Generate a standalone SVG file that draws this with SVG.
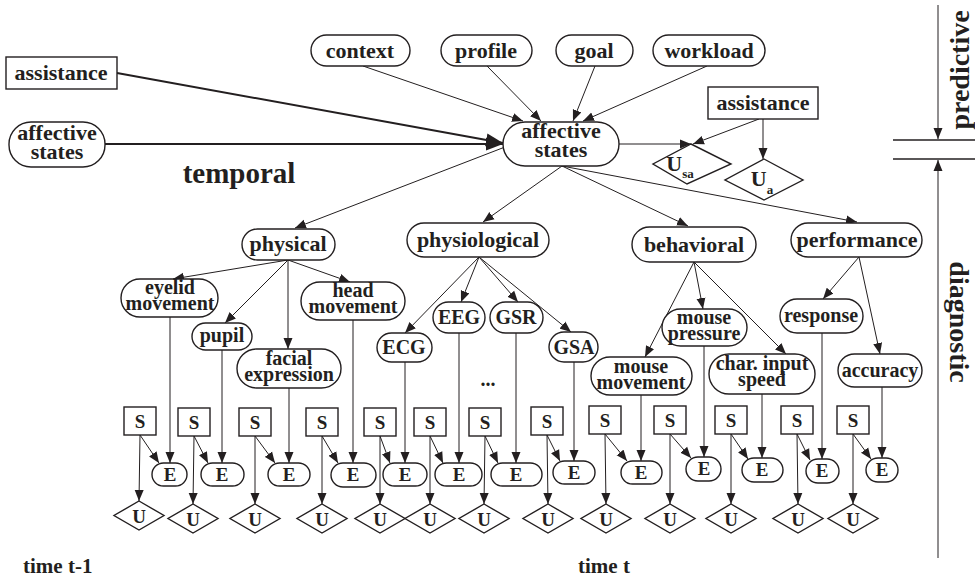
<svg xmlns="http://www.w3.org/2000/svg" width="975" height="581" viewBox="0 0 975 581">
<defs>
<marker id="ah" markerUnits="userSpaceOnUse" markerWidth="12" markerHeight="10" refX="11" refY="5" orient="auto"><path d="M0,0.5 L11,5 L0,9.5 z" fill="#231f20"/></marker>
<marker id="ahb" markerUnits="userSpaceOnUse" markerWidth="18" markerHeight="14" refX="17" refY="7" orient="auto"><path d="M0,0.5 L17,7 L0,13.5 z" fill="#231f20"/></marker>
<style>
.n{fill:#fff;stroke:#231f20;stroke-width:1.4}
.t{font-family:"Liberation Serif","Times New Roman",serif;font-weight:bold;fill:#231f20;text-anchor:middle}
.L{font-size:22px}
.M{font-size:20px}
.s{font-size:19px}
.c line,.c path{stroke:#231f20;stroke-width:1;fill:none;marker-end:url(#ah)}
.c .th{stroke-width:2;marker-end:url(#ahb)}
.ax line{stroke:#231f20;stroke-width:1.4}
</style>
</defs>

<!-- connectors -->
<g id="connectors" class="c">
<line class="th" x1="117" y1="73" x2="503" y2="143"/>
<line class="th" x1="105" y1="144" x2="503" y2="144"/>
<line x1="363" y1="66" x2="523" y2="121"/>
<line x1="487" y1="66" x2="541" y2="121"/>
<line x1="595" y1="66" x2="573" y2="121"/>
<line x1="707" y1="66" x2="583" y2="121"/>
<line x1="619" y1="144" x2="691" y2="144"/>
<line x1="759" y1="119" x2="693" y2="144"/>
<line x1="763" y1="119" x2="763" y2="159"/>
<line x1="505" y1="147" x2="295" y2="228"/>
<line x1="562" y1="166" x2="483" y2="222"/>
<line x1="562" y1="166" x2="688" y2="226"/>
<line x1="562" y1="166" x2="857" y2="222"/>
<line x1="288" y1="260" x2="173" y2="279"/>
<line x1="288" y1="260" x2="225" y2="323"/>
<line x1="288" y1="260" x2="288" y2="349"/>
<line x1="288" y1="260" x2="350" y2="282"/>
<line x1="479" y1="257" x2="405" y2="333"/>
<line x1="479" y1="257" x2="461" y2="302"/>
<line x1="479" y1="257" x2="518" y2="302"/>
<line x1="479" y1="257" x2="571" y2="332"/>
<line x1="694" y1="262" x2="645" y2="357"/>
<line x1="694" y1="262" x2="703" y2="309"/>
<line x1="694" y1="262" x2="786" y2="354"/>
<line x1="859" y1="257" x2="823" y2="299"/>
<line x1="859" y1="257" x2="880" y2="354"/>
<!-- parents to E -->
<line x1="170" y1="317" x2="170" y2="463"/>
<line x1="222" y1="350" x2="222" y2="463"/>
<line x1="289" y1="388" x2="289" y2="463"/>
<line x1="353" y1="320" x2="353" y2="463"/>
<line x1="405" y1="362" x2="405" y2="463"/>
<line x1="459" y1="333" x2="459" y2="463"/>
<line x1="516" y1="333" x2="516" y2="463"/>
<line x1="574" y1="362" x2="574" y2="461"/>
<line x1="641" y1="395" x2="641" y2="461"/>
<line x1="704" y1="346" x2="704" y2="457"/>
<line x1="762" y1="394" x2="762" y2="458"/>
<line x1="822" y1="333" x2="822" y2="459"/>
<line x1="882" y1="387" x2="882" y2="458"/>
<!-- S to E -->
<line x1="140" y1="435" x2="159" y2="463"/>
<line x1="194" y1="436" x2="208" y2="463"/>
<line x1="255" y1="436" x2="275" y2="463"/>
<line x1="322" y1="436" x2="338" y2="463"/>
<line x1="380" y1="436" x2="390" y2="463"/>
<line x1="430" y1="436" x2="443" y2="463"/>
<line x1="485" y1="436" x2="498" y2="463"/>
<line x1="547" y1="435" x2="560" y2="461"/>
<line x1="605" y1="434" x2="627" y2="461"/>
<line x1="670" y1="434" x2="691" y2="458"/>
<line x1="731" y1="434" x2="748" y2="459"/>
<line x1="797" y1="434" x2="810" y2="460"/>
<line x1="853" y1="434" x2="871" y2="459"/>
<!-- S to U -->
<line x1="140" y1="435" x2="139" y2="501"/>
<line x1="194" y1="436" x2="193" y2="504"/>
<line x1="255" y1="436" x2="255" y2="504"/>
<line x1="322" y1="436" x2="322" y2="504"/>
<line x1="380" y1="436" x2="380" y2="504"/>
<line x1="430" y1="436" x2="430" y2="504"/>
<line x1="485" y1="436" x2="484" y2="504"/>
<line x1="547" y1="435" x2="548" y2="504"/>
<line x1="605" y1="434" x2="606" y2="504"/>
<line x1="670" y1="434" x2="670" y2="504"/>
<line x1="731" y1="434" x2="731" y2="504"/>
<line x1="797" y1="434" x2="798" y2="504"/>
<line x1="853" y1="434" x2="853" y2="504"/>
<!-- axis arrows -->
<line x1="938" y1="5" x2="938" y2="139"/>
<line x1="938" y1="558" x2="938" y2="160"/>
</g>

<g id="axis-lines" class="ax">
<line x1="893" y1="140" x2="975" y2="140"/>
<line x1="893" y1="159" x2="975" y2="159"/>
</g>

<!-- top nodes -->
<g id="assistance-prev"><rect class="n" x="6" y="57" width="111" height="32"/><text class="t L" x="61" y="80">assistance</text></g>
<g id="affective-prev"><rect class="n" x="9" y="122" width="96" height="45" rx="22"/><text class="t L" x="57" y="140">affective<tspan x="57" dy="19">states</tspan></text></g>
<g id="context"><rect class="n" x="311" y="35" width="99" height="31" rx="15.5"/><text class="t L" x="360" y="58">context</text></g>
<g id="profile"><rect class="n" x="441" y="35" width="91" height="31" rx="15.5"/><text class="t L" x="486" y="58">profile</text></g>
<g id="goal"><rect class="n" x="556" y="35" width="77" height="31" rx="15.5"/><text class="t L" x="594" y="58">goal</text></g>
<g id="workload"><rect class="n" x="653" y="35" width="112" height="31" rx="15.5"/><text class="t L" x="709" y="58">workload</text></g>
<g id="affective"><rect class="n" x="503" y="122" width="116" height="44" rx="22"/><text class="t L" x="561" y="138">affective<tspan x="561" dy="19">states</tspan></text></g>
<g id="assistance"><rect class="n" x="708" y="87" width="110" height="32"/><text class="t L" x="763" y="110">assistance</text></g>
<g id="Usa"><path class="n" d="M691,144 L731,164 L687,184 L653,164 Z"/><text class="t L" x="680" y="171">U<tspan style="font-size:13px" dy="7">sa</tspan></text></g>
<g id="Ua"><path class="n" d="M764,159 L803,180 L764,200 L725,180 Z"/><text class="t L" x="762" y="186">U<tspan style="font-size:13px" dy="8">a</tspan></text></g>

<text class="t" style="font-size:29px" x="239" y="183">temporal</text>

<!-- level 2 -->
<g id="physical"><rect class="n" x="242" y="229" width="93" height="31" rx="15.5"/><text class="t L" x="288" y="251">physical</text></g>
<g id="physiological"><rect class="n" x="407" y="223" width="142" height="34" rx="17"/><text class="t L" x="478" y="247">physiological</text></g>
<g id="behavioral"><rect class="n" x="632" y="227" width="124" height="35" rx="17.5"/><text class="t L" x="694" y="252">behavioral</text></g>
<g id="performance"><rect class="n" x="791" y="223" width="131" height="34" rx="17"/><text class="t L" x="857" y="247">performance</text></g>

<!-- level 3 -->
<g id="eyelid"><rect class="n" x="121" y="279" width="97" height="38" rx="19"/><text class="t M" x="170" y="294">eyelid<tspan x="170" dy="16">movement</tspan></text></g>
<g id="pupil"><rect class="n" x="192" y="323" width="60" height="27" rx="13.5"/><text class="t M" x="222" y="342">pupil</text></g>
<g id="facial"><rect class="n" x="237" y="349" width="104" height="39" rx="19.5"/><text class="t M" x="289" y="365">facial<tspan x="289" dy="16">expression</tspan></text></g>
<g id="head"><rect class="n" x="301" y="282" width="104" height="38" rx="19"/><text class="t M" x="353" y="297">head<tspan x="353" dy="16">movement</tspan></text></g>
<g id="ECG"><rect class="n" x="377" y="333" width="55" height="29" rx="14.5"/><text class="t M" x="404" y="354">ECG</text></g>
<g id="EEG"><rect class="n" x="433" y="302" width="52" height="31" rx="15.5"/><text class="t M" x="459" y="324">EEG</text></g>
<g id="GSR"><rect class="n" x="490" y="302" width="53" height="31" rx="15.5"/><text class="t M" x="516" y="324">GSR</text></g>
<g id="GSA"><rect class="n" x="549" y="332" width="49" height="30" rx="15"/><text class="t M" x="574" y="354">GSA</text></g>
<text class="t M" x="488" y="386">...</text>
<g id="mouse-movement"><rect class="n" x="591" y="357" width="101" height="38" rx="19"/><text class="t M" x="641" y="373">mouse<tspan x="641" dy="16">movement</tspan></text></g>
<g id="mouse-pressure"><rect class="n" x="662" y="309" width="85" height="37" rx="18.5"/><text class="t M" x="704" y="324">mouse<tspan x="704" dy="16">pressure</tspan></text></g>
<g id="char-input"><rect class="n" x="709" y="354" width="106" height="40" rx="20"/><text class="t M" x="762" y="370">char. input<tspan x="762" dy="16">speed</tspan></text></g>
<g id="response"><rect class="n" x="780" y="299" width="83" height="34" rx="17"/><text class="t M" x="821" y="322">response</text></g>
<g id="accuracy"><rect class="n" x="838" y="354" width="84" height="33" rx="16.5"/><text class="t M" x="880" y="377">accuracy</text></g>

<!-- S boxes -->
<g id="S1"><rect class="n" x="124" y="407" width="32" height="28"/><text class="t s" x="140" y="428">S</text></g>
<g id="S2"><rect class="n" x="178" y="408" width="32" height="28"/><text class="t s" x="194" y="429">S</text></g>
<g id="S3"><rect class="n" x="239" y="408" width="32" height="28"/><text class="t s" x="255" y="429">S</text></g>
<g id="S4"><rect class="n" x="306" y="408" width="32" height="28"/><text class="t s" x="322" y="429">S</text></g>
<g id="S5"><rect class="n" x="364" y="408" width="32" height="28"/><text class="t s" x="380" y="429">S</text></g>
<g id="S6"><rect class="n" x="414" y="408" width="32" height="28"/><text class="t s" x="430" y="429">S</text></g>
<g id="S7"><rect class="n" x="469" y="408" width="32" height="28"/><text class="t s" x="485" y="429">S</text></g>
<g id="S8"><rect class="n" x="531" y="407" width="32" height="28"/><text class="t s" x="547" y="428">S</text></g>
<g id="S9"><rect class="n" x="589" y="406" width="32" height="28"/><text class="t s" x="605" y="427">S</text></g>
<g id="S10"><rect class="n" x="654" y="406" width="32" height="28"/><text class="t s" x="670" y="427">S</text></g>
<g id="S11"><rect class="n" x="715" y="406" width="32" height="28"/><text class="t s" x="731" y="427">S</text></g>
<g id="S12"><rect class="n" x="781" y="406" width="32" height="28"/><text class="t s" x="797" y="427">S</text></g>
<g id="S13"><rect class="n" x="837" y="406" width="32" height="28"/><text class="t s" x="853" y="427">S</text></g>

<!-- E pills -->
<g id="E1"><rect class="n" x="152" y="463" width="35" height="23" rx="11.5"/><text class="t s" x="170" y="481">E</text></g>
<g id="E2"><rect class="n" x="201" y="463" width="43" height="23" rx="11.5"/><text class="t s" x="222" y="481">E</text></g>
<g id="E3"><rect class="n" x="268" y="463" width="42" height="23" rx="11.5"/><text class="t s" x="289" y="481">E</text></g>
<g id="E4"><rect class="n" x="331" y="463" width="45" height="24" rx="12"/><text class="t s" x="353" y="481">E</text></g>
<g id="E5"><rect class="n" x="383" y="463" width="44" height="23" rx="11.5"/><text class="t s" x="405" y="481">E</text></g>
<g id="E6"><rect class="n" x="435" y="463" width="47" height="23" rx="11.5"/><text class="t s" x="459" y="481">E</text></g>
<g id="E7"><rect class="n" x="491" y="463" width="51" height="23" rx="11.5"/><text class="t s" x="516" y="481">E</text></g>
<g id="E8"><rect class="n" x="553" y="461" width="42" height="23" rx="11.5"/><text class="t s" x="574" y="479">E</text></g>
<g id="E9"><rect class="n" x="621" y="461" width="41" height="23" rx="11.5"/><text class="t s" x="641" y="479">E</text></g>
<g id="E10"><rect class="n" x="686" y="457" width="35" height="24" rx="12"/><text class="t s" x="704" y="475">E</text></g>
<g id="E11"><rect class="n" x="742" y="458" width="41" height="24" rx="12"/><text class="t s" x="762" y="476">E</text></g>
<g id="E12"><rect class="n" x="806" y="459" width="33" height="24" rx="12"/><text class="t s" x="822" y="477">E</text></g>
<g id="E13"><rect class="n" x="866" y="458" width="32" height="24" rx="12"/><text class="t s" x="882" y="476">E</text></g>

<!-- U diamonds -->
<g id="U1"><path class="n" d="M139,501 L164,515.5 L139,530 L114,515.5 Z"/><text class="t s" x="139" y="523">U</text></g>
<g id="U2"><path class="n" d="M193,504 L218,518.5 L193,533 L168,518.5 Z"/><text class="t s" x="193" y="526">U</text></g>
<g id="U3"><path class="n" d="M255,504 L280,518.5 L255,533 L230,518.5 Z"/><text class="t s" x="255" y="526">U</text></g>
<g id="U4"><path class="n" d="M322,504 L347,518.5 L322,533 L297,518.5 Z"/><text class="t s" x="322" y="526">U</text></g>
<g id="U5"><path class="n" d="M380,504 L405,518.5 L380,533 L355,518.5 Z"/><text class="t s" x="380" y="526">U</text></g>
<g id="U6"><path class="n" d="M430,504 L455,518.5 L430,533 L405,518.5 Z"/><text class="t s" x="430" y="526">U</text></g>
<g id="U7"><path class="n" d="M484,504 L509,518.5 L484,533 L459,518.5 Z"/><text class="t s" x="484" y="526">U</text></g>
<g id="U8"><path class="n" d="M548,504 L573,518.5 L548,533 L523,518.5 Z"/><text class="t s" x="548" y="526">U</text></g>
<g id="U9"><path class="n" d="M606,504 L631,518.5 L606,533 L581,518.5 Z"/><text class="t s" x="606" y="526">U</text></g>
<g id="U10"><path class="n" d="M670,504 L695,518.5 L670,533 L645,518.5 Z"/><text class="t s" x="670" y="526">U</text></g>
<g id="U11"><path class="n" d="M731,504 L756,518.5 L731,533 L706,518.5 Z"/><text class="t s" x="731" y="526">U</text></g>
<g id="U12"><path class="n" d="M798,504 L823,518.5 L798,533 L773,518.5 Z"/><text class="t s" x="798" y="526">U</text></g>
<g id="U13"><path class="n" d="M853,504 L878,518.5 L853,533 L828,518.5 Z"/><text class="t s" x="853" y="526">U</text></g>

<text class="t" style="font-size:21px;text-anchor:start" x="23" y="573">time t-1</text>
<text class="t" style="font-size:21px;text-anchor:start" x="578" y="573">time t</text>

<text class="t" style="font-size:28px" transform="translate(969,70) rotate(-90)">predictive</text>
<text class="t" style="font-size:28px" transform="translate(950,322) rotate(90)">diagnostic</text>
</svg>
